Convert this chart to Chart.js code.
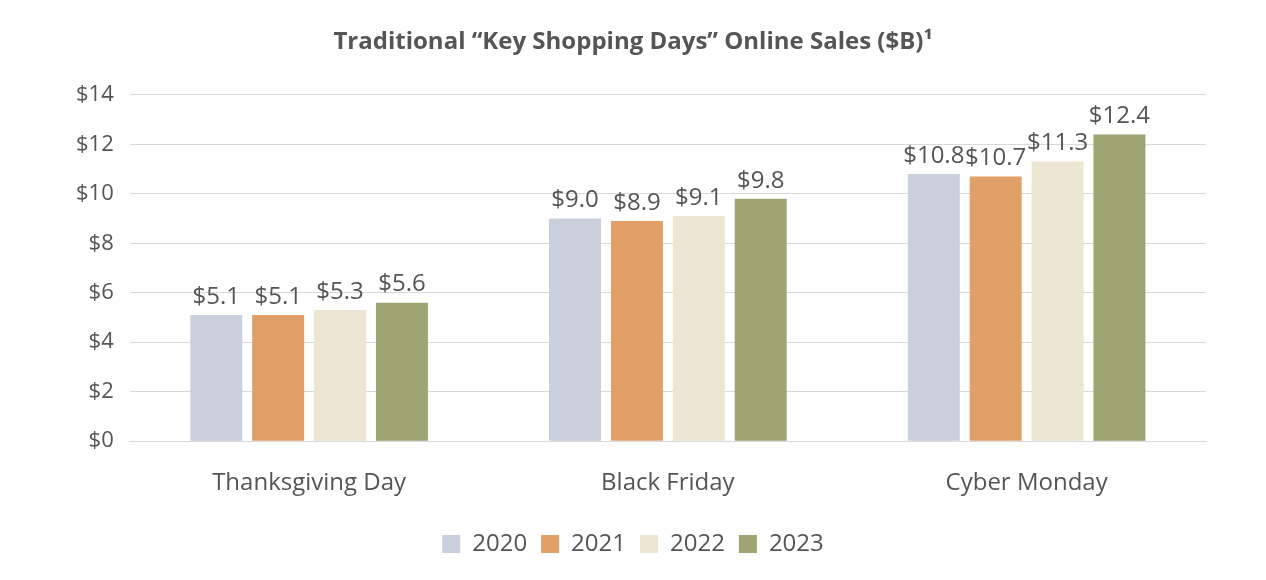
<!DOCTYPE html>
<html>
<head>
<meta charset="utf-8">
<script src="https://cdn.jsdelivr.net/npm/chart.js@4"></script>
<style>
  html, body { margin: 0; background: #fff; }
  #wrap { width: 1266px; height: 580px; }
</style>
</head>
<body>
<div id="wrap"><canvas id="chart"></canvas></div>
<script>
const categories = ['Thanksgiving Day', 'Black Friday', 'Cyber Monday'];
const years = ['2020', '2021', '2022', '2023'];
const sales2020 = [5.1, 9.0, 10.8];
const sales2021 = [5.1, 8.9, 10.7];
const sales2022 = [5.3, 9.1, 11.3];
const sales2023 = [5.6, 9.8, 12.4];
const COLOURS = ['#c9d0dc', '#e0a068', '#ede6d3', '#9ea472'];
const TEXT = '#555555';

// values over each bar
const barLabels = {
    id: 'barLabels',
    afterDatasetsDraw(chart) {
        const ctx = chart.ctx;
        ctx.save();
        ctx.font = '24px "Open Sans"';
        ctx.fillStyle = TEXT;
        ctx.textAlign = 'center';
        ctx.textBaseline = 'bottom';
        chart.data.datasets.forEach((ds, i) => {
            chart.getDatasetMeta(i).data.forEach((bar, j) => {
                ctx.fillText('$' + ds.data[j].toFixed(1), bar.x, bar.y - 6);
            });
        });
        ctx.restore();
    },
};

new Chart(document.getElementById('chart'), {
    type: 'bar',
    data: {
        labels: categories,
        datasets: [sales2020, sales2021, sales2022, sales2023].map((d, i) => ({
            label: years[i], data: d, backgroundColor: COLOURS[i],
            categoryPercentage: 0.69, barPercentage: 0.84,
        })),
    },
    options: {
        responsive: true, maintainAspectRatio: false, animation: false,
        layout: { padding: { left: 60, right: 60, top: 0, bottom: 14 } },
        plugins: {
            title: {
                display: true, text: 'Traditional “Key Shopping Days” Online Sales ($B)¹',
                color: TEXT, font: { family: '"Open Sans"', size: 24, weight: 'bold' },
                padding: { top: 28, bottom: 38 },
            },
            legend: {
                position: 'bottom',
                labels: { color: TEXT, font: { family: '"Open Sans"', size: 24 },
                          boxWidth: 18, boxHeight: 18, padding: 14 },
            },
            tooltip: { enabled: false },
        },
        scales: {
            y: {
                min: 0, max: 14,
                ticks: { stepSize: 2, color: TEXT, font: { family: '"Open Sans"', size: 22 },
                         callback: (v) => '$' + v, padding: 16 },
                grid: { color: '#d9d9d9', drawTicks: false },
                border: { display: false },
            },
            x: {
                ticks: { color: TEXT, font: { family: '"Open Sans"', size: 24 }, padding: 20 },
                grid: { display: false },
                border: { color: '#d9d9d9' },
            },
        },
    },
    plugins: [barLabels],
});
</script>
</body>
</html>
